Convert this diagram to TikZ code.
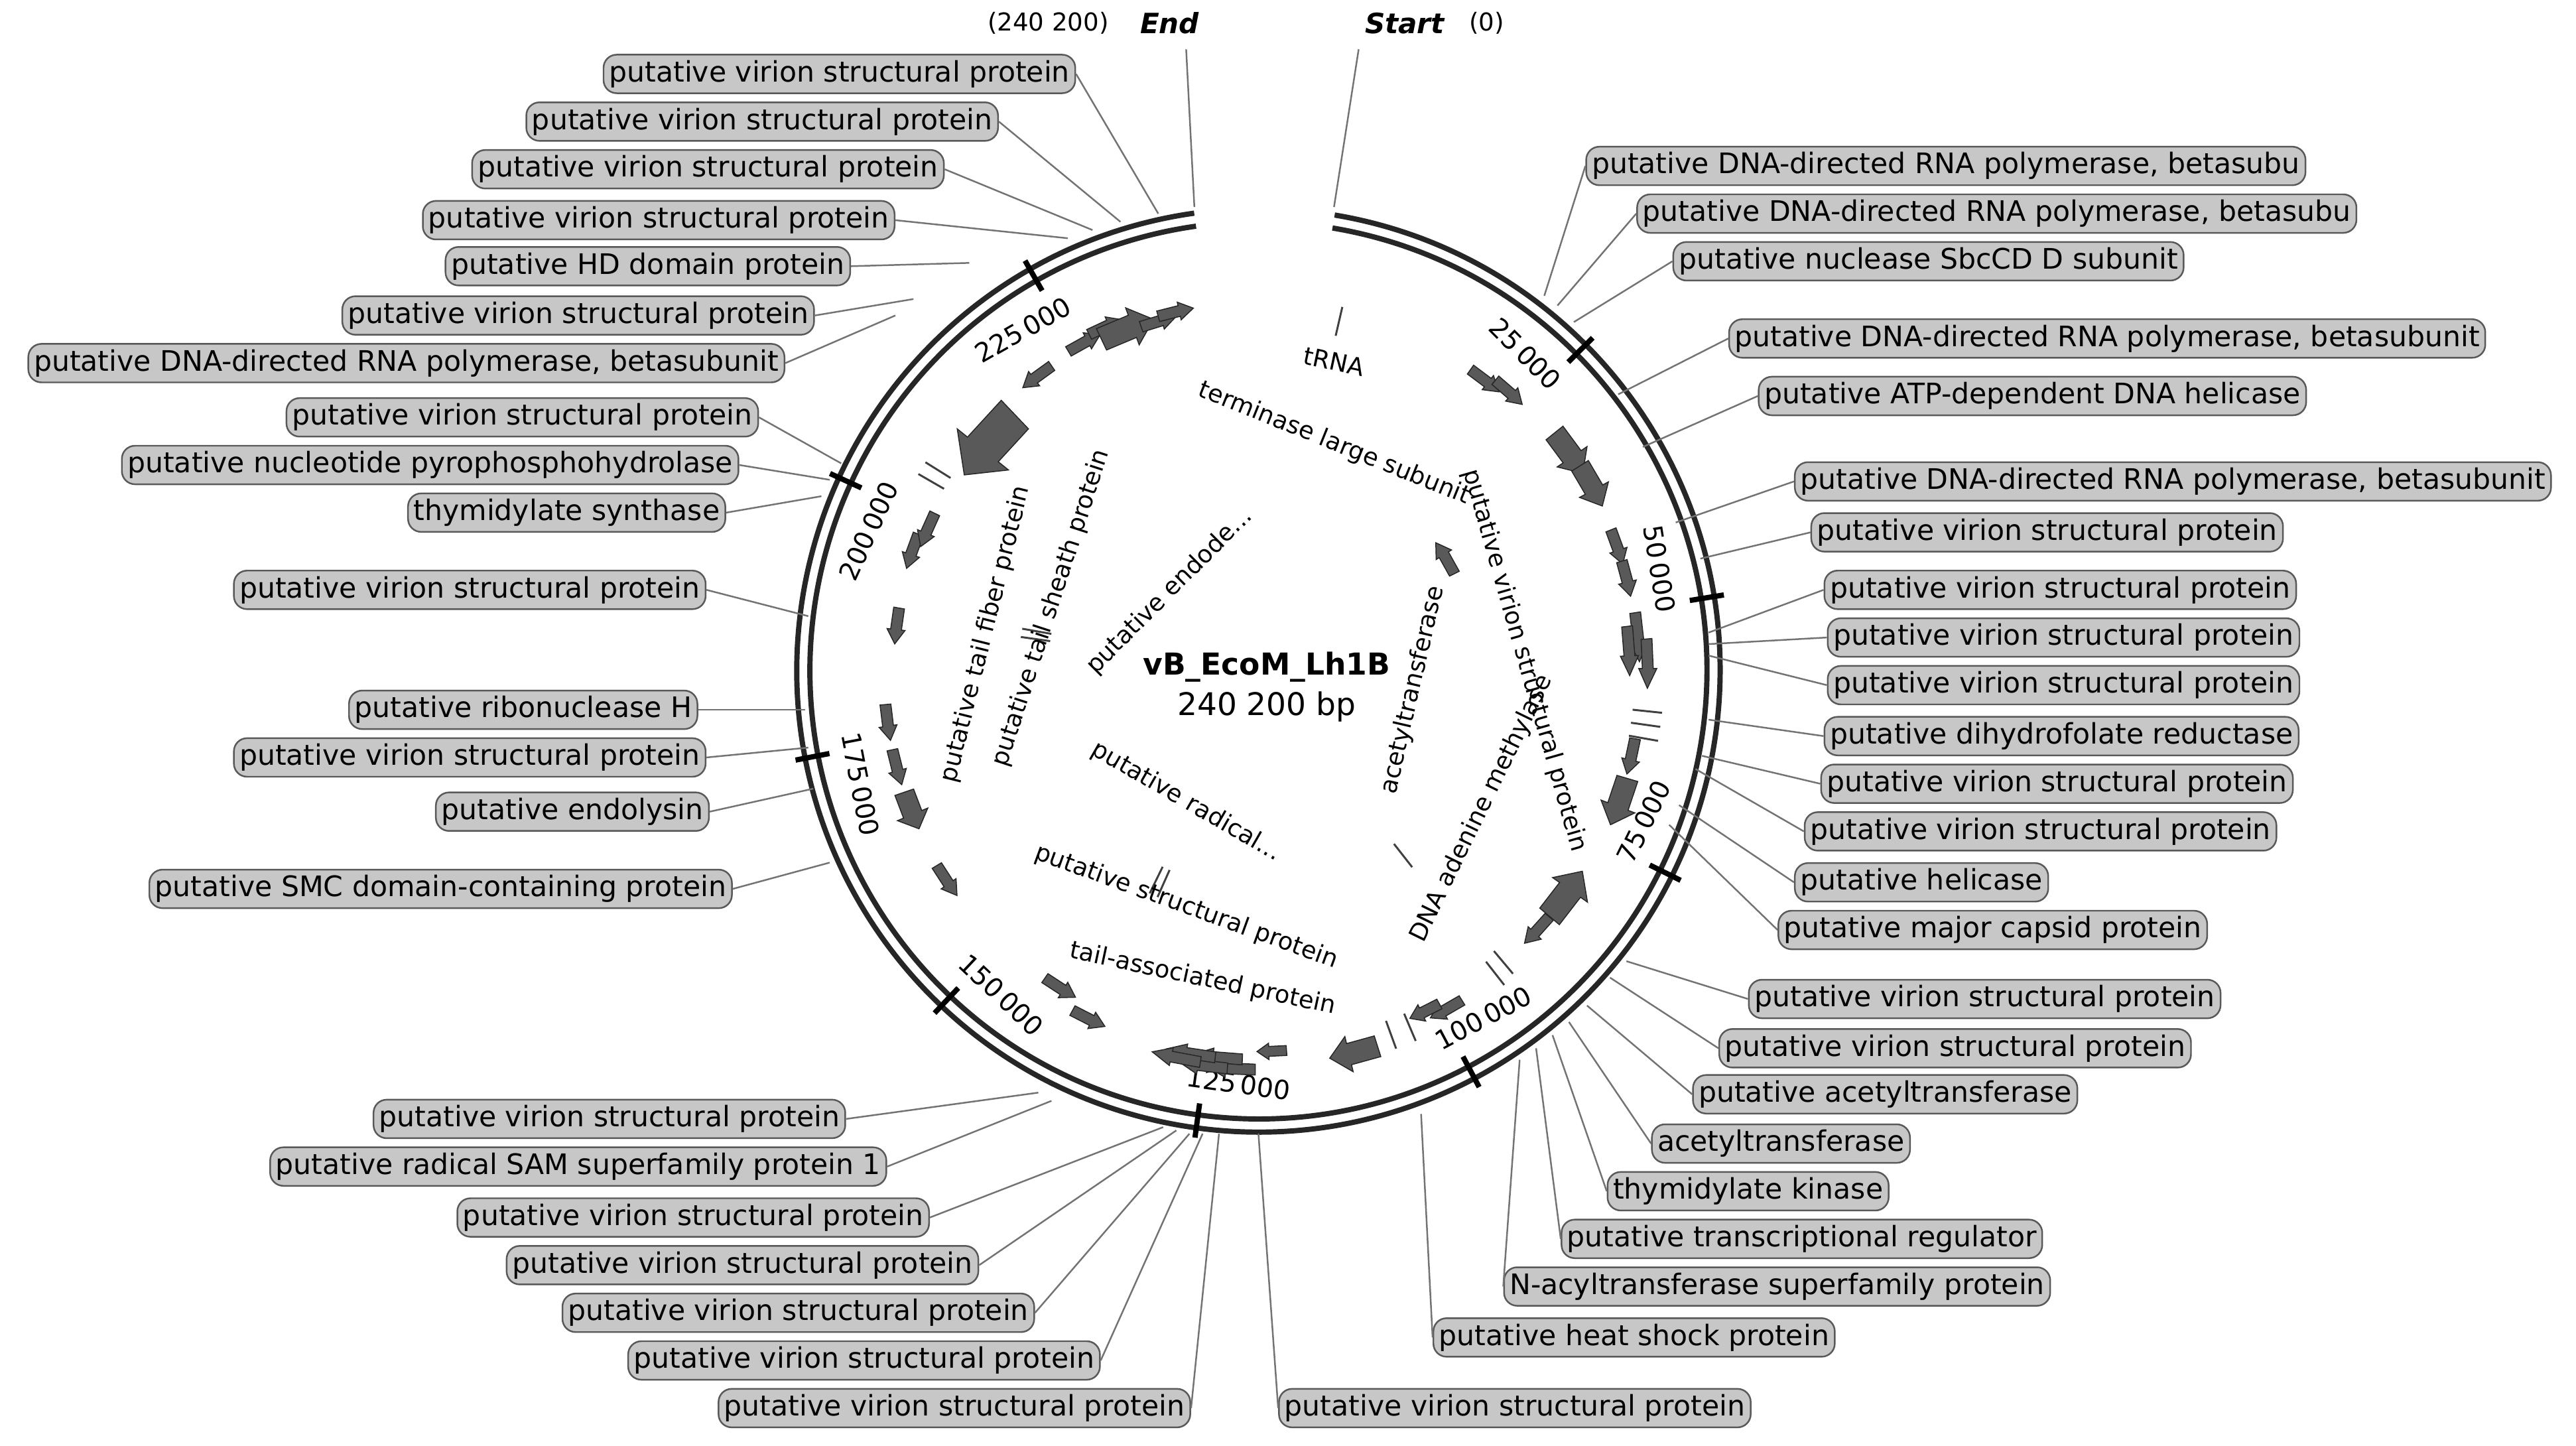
\documentclass[tikz,border=0pt]{standalone}
\usepackage{fontspec}
\setmainfont{DejaVu Sans}
\usetikzlibrary{calc}
\tikzset{
 lab/.style={draw=black!65,fill=black!22,rounded corners=4pt,inner sep=1.7pt,font=\fontsize{8.6}{9.5}\selectfont,line width=0.5pt},
 conn/.style={draw=black!55,line width=0.5pt},
 ring/.style={line width=1.6pt,black!85},
 feat/.style={draw=black!85,fill=black!65,line width=0.3pt},
 inner/.style={font=\fontsize{7.4}{9}\selectfont},
 ticklab/.style={font=\fontsize{8}{9}\selectfont}
}
\begin{document}
\begin{tikzpicture}[x=0.5pt,y=-0.5pt]
\useasboundingbox (0,0) rectangle (1568,880);
\coordinate (C) at (766,408);
% rings
\draw[ring] ($(C)+(-80.5:281)$) arc[start angle=-80.5,end angle=262,radius=281];
\draw[ring] ($(C)+(-80.5:273)$) arc[start angle=-80.5,end angle=262,radius=273];
% ticks
\foreach \p in {25,50,...,225}{
 \pgfmathsetmacro\c{9.5+\p/240.2*342.5}
 \draw[line width=1.6pt] ($(C)+(\c-90:266)$) -- ($(C)+(\c-90:287)$);
 \pgfmathsetmacro\cl{\c-5}
 \pgfmathsetmacro\rot{(\c<90 || \c>270) ? -\c : 180-\c}
 \pgfmathtruncatemacro\pp{\p}
 \node[ticklab,rotate=\rot] at ($(C)+(\cl-90:252)$) {\pp\,000};
}
% features: angle/radius/length/width/direction(1 cw, -1 ccw)
\foreach \c/\r/\l/\w/\d in {38/224/22/11/1,42/228/22/11/1,55/231/30/22/1,61/232/28/20/1,71/231/22/11/1,76/231/22/11/1,85/232/30/11/1,87/226/30/11/1,89/237/30/11/1,103/233/22/11/1,110/234/30/22/1,126/232/34/26/-1,133/232/22/11/1,151/236/22/11/1,154/231/20/11/1,166/240/30/22/1,178/232/18/10/1,184/243/30/11/1,186/237/30/11/1,188/243/30/11/1,190/237/30/11/1,192/241/30/11/1,206/236/22/11/-1,212/228/22/11/-1,236/229/22/11/-1,248/228/24/20/-1,255/228/22/11/-1,262/228/22/11/-1,277/222/22/11/-1,289/223/22/11/-1,293/219/22/11/-1,310/215/48/40/-1,323/224/22/11/-1,332/226/22/11/1,336/229/22/11/1,339/223/34/24/1,344/221/22/11/1,347/224/22/11/1,59/133/22/11/-1}{
 \pgfmathsetmacro\aa{\c-\d*\l/\r*28.648}
 \pgfmathsetmacro\ab{\c+\d*\l/\r*28.648}
 \pgfmathsetmacro\am{\ab-\d*0.4*\l/\r*57.296}
 \pgfmathsetmacro\sw{0.3*\w}
 \pgfmathsetmacro\hw{\w/2}
 \draw[feat] ($(C)+(\aa-90:\r-\sw)$) -- ($(C)+(\am-90:\r-\sw)$) -- ($(C)+(\am-90:\r-\hw)$) -- ($(C)+(\ab-90:\r)$) -- ($(C)+(\am-90:\r+\hw)$) -- ($(C)+(\am-90:\r+\sw)$) -- ($(C)+(\aa-90:\r+\sw)$) -- cycle;
}
% thin marks
\foreach \c/\r in {13/218,98/238,100/238,140/232,142/234,157/236,160/236,278/137,280/137,206/142,204/142,142/143,300/230,302/230,96/238}{
 \draw[black!75,line width=0.6pt] ($(C)+(\c-90:\r-9)$) -- ($(C)+(\c-90:\r+9)$);
}
% center
\node[font=\bfseries\fontsize{9.2}{10}\selectfont] (title) at (771,406) {vB\_EcoM\_Lh1B};
\node[font=\fontsize{9.5}{11}\selectfont] (len) at (771,430) {240 200 bp};
% inner labels
\node[inner,rotate=-12] (t1) at (812,220) {tRNA};
\node[inner,rotate=-22] (t2) at (812,270) {terminase large subunit};
\node[inner,rotate=-74] (t3) at (928,402) {putative virion structural protein};
\node[inner,rotate=77] (t4) at (860,420) {acetyltransferase};
\node[inner,rotate=64] (t5) at (902,492) {DNA adenine methylase};
\node[inner,rotate=45] (t6) at (712,360) {putative endode...};
\node[inner,rotate=-30] (t7) at (722,488) {putative radical...};
\node[inner,rotate=-20] (t8) at (722,552) {putative structural protein};
\node[inner,rotate=-12] (t9) at (732,596) {tail-associated protein};
\node[inner,rotate=72] (t10) at (640,370) {putative tail sheath protein};
\node[inner,rotate=76] (t11) at (600,386) {putative tail fiber protein};
% top
\node[font=\fontsize{7.5}{9}\selectfont] (endn) at (638,14) {(240 200)};
\node[font=\bfseries\itshape\fontsize{8.5}{10}\selectfont] (endl) at (712,14) {End};
\node[font=\bfseries\itshape\fontsize{8.5}{10}\selectfont] (startl) at (855,14) {Start};
\node[font=\fontsize{7.5}{9}\selectfont] (startn) at (905,14) {(0)};
\coordinate (ea) at (727,126); \coordinate (eb) at (722,30);
\coordinate (sa) at (812,126); \coordinate (sb) at (827,30);
\draw[conn] (ea) -- (eb); \draw[conn] (sa) -- (sb);
% right labels
\foreach \n/\x/\y/\px/\py/\t in {
 r1/965/101/940/180/{putative DNA-directed RNA polymerase, betasubu},
 r2/996/130/948/186/{putative DNA-directed RNA polymerase, betasubu},
 r3/1018/159/958/196/{putative nuclease SbcCD D subunit},
 r4/1052/206/985/240/{putative DNA-directed RNA polymerase, betasubunit},
 r5/1070/241/1000/272/{putative ATP-dependent DNA helicase},
 r6/1092/293/1020/318/{putative DNA-directed RNA polymerase, betasubunit},
 r7/1102/324/1035/340/{putative virion structural protein},
 r8/1110/359/1040/385/{putative virion structural protein},
 r9/1112/388/1040/392/{putative virion structural protein},
 r10/1112/417/1040/399/{putative virion structural protein},
 r11/1110/448/1040/438/{putative dihydrofolate reductase},
 r12/1108/477/1036/460/{putative virion structural protein},
 r13/1098/506/1032/468/{putative virion structural protein},
 r14/1092/537/1022/490/{putative helicase},
 r15/1082/566/1016/502/{putative major capsid protein},
 r16/1064/608/990/585/{putative virion structural protein},
 r17/1046/638/980/595/{putative virion structural protein},
 r18/1030/666/966/612/{putative acetyltransferase},
 r19/1005/696/955/622/{acetyltransferase},
 r20/978/725/945/630/{thymidylate kinase},
 r21/950/754/935/638/{putative transcriptional regulator},
 r22/915/783/925/645/{N-acyltransferase superfamily protein},
 r23/872/814/865/678/{putative heat shock protein},
 r24/778/857/766/690/{putative virion structural protein}}{
 \node[lab,anchor=west] (\n) at (\x,\y) {\t};
 \coordinate (\n p) at (\px,\py);
 \draw[conn] (\n p) -- (\n.west);
}
% left labels
\foreach \n/\x/\y/\px/\py/\t in {
 l1/725/857/742/690/{putative virion structural protein},
 l2/670/828/732/690/{putative virion structural protein},
 l3/630/799/724/690/{putative virion structural protein},
 l4/596/770/716/688/{putative virion structural protein},
 l5/566/741/708/686/{putative virion structural protein},
 l6/540/710/640/670/{putative radical SAM superfamily protein 1},
 l7/515/681/632/665/{putative virion structural protein},
 l8/446/541/505/525/{putative SMC domain-containing protein},
 l9/432/494/495/480/{putative endolysin},
 l10/430/461/492/455/{putative virion structural protein},
 l11/425/432/490/432/{putative ribonuclease H},
 l12/430/359/492/375/{putative virion structural protein},
 l13/442/312/500/302/{thymidylate synthase},
 l14/450/283/505/292/{putative nucleotide pyrophosphohydrolase},
 l15/462/254/512/282/{putative virion structural protein},
 l16/478/221/545/192/{putative DNA-directed RNA polymerase, betasubunit},
 l17/496/192/556/182/{putative virion structural protein},
 l18/518/162/590/160/{putative HD domain protein},
 l19/545/134/650/145/{putative virion structural protein},
 l20/575/103/665/140/{putative virion structural protein},
 l21/608/74/682/135/{putative virion structural protein},
 l22/655/45/705/130/{putative virion structural protein}}{
 \node[lab,anchor=east] (\n) at (\x,\y) {\t};
 \coordinate (\n p) at (\px,\py);
 \draw[conn] (\n p) -- (\n.east);
}
\end{tikzpicture}
\end{document}
